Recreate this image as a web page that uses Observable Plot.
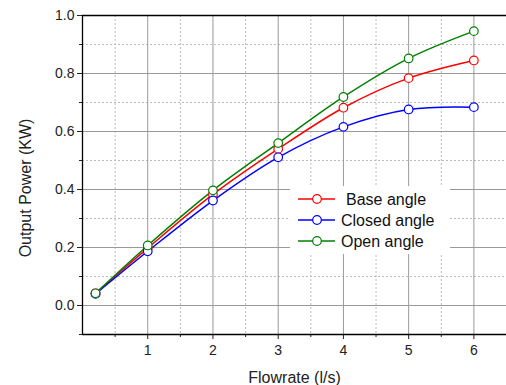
<!DOCTYPE html>
<html>
<head>
<meta charset="utf-8">
<script src="https://cdn.jsdelivr.net/npm/d3@7"></script>
<script src="https://cdn.jsdelivr.net/npm/@observablehq/plot@0.6"></script>
<style>
  html, body { margin: 0; padding: 0; background: #fff; }
  #chart { position: relative; width: 506px; height: 385px; }
  svg { font-family: "Liberation Sans", Arial, sans-serif; }
</style>
</head>
<body>
<div id="chart"></div>
<script>
const flowrate = [0.2, 1, 2, 3, 4, 5, 6];
const baseAngle = [0.042, 0.198, 0.383, 0.540, 0.682, 0.784, 0.845];
const closedAngle = [0.040, 0.187, 0.362, 0.511, 0.616, 0.676, 0.684];
const openAngle = [0.042, 0.207, 0.397, 0.560, 0.719, 0.852, 0.946];
const seriesNames = ["Base angle", "Closed angle", "Open angle"];
const seriesColors = ["#ff0000", "#0000ff", "#008000"];

const xMajor = [1, 2, 3, 4, 5, 6];
const xMinor = [0.5, 1.5, 2.5, 3.5, 4.5, 5.5];
const yMajor = [0, 0.2, 0.4, 0.6, 0.8, 1.0];
const yMinor = [-0.1, 0.1, 0.3, 0.5, 0.7, 0.9];

const seriesValues = [baseAngle, closedAngle, openAngle];
const data = [];
seriesNames.forEach((name, i) => {
  flowrate.forEach((x, j) => data.push({series: name, x, y: seriesValues[i][j]}));
});

const plot = Plot.plot({
  width: 506,
  height: 385,
  marginLeft: 82,
  marginRight: 0,
  marginTop: 15,
  marginBottom: 51,
  style: {fontFamily: "Liberation Sans, Arial, sans-serif", fontSize: "14px", color: "#222"},
  x: {domain: [0, 6.5]},
  y: {domain: [-0.1, 1.0]},
  color: {domain: seriesNames, range: seriesColors},
  marks: [
    Plot.ruleX(xMinor, {stroke: "#bbb", strokeDasharray: "2,2", strokeWidth: 1}),
    Plot.ruleY(yMinor.filter(d => d > -0.1), {stroke: "#bbb", strokeDasharray: "2,2", strokeWidth: 1}),
    Plot.ruleX(xMajor, {stroke: "#999", strokeWidth: 1}),
    Plot.ruleY(yMajor.filter(d => d < 1), {stroke: "#999", strokeWidth: 1}),
    Plot.axisY({ticks: yMajor, tickSize: 5, tickPadding: 3, tickFormat: d3.format(".1f"), label: null, fontSize: 14}),
    Plot.axisY({ticks: yMinor, tickSize: 3, tickFormat: () => "", label: null}),
    Plot.axisX({ticks: xMajor, tickSize: 5, tickPadding: 6, tickFormat: d => String(d), label: null, fontSize: 14}),
    Plot.axisX({ticks: xMinor, tickSize: 3, tickFormat: () => "", label: null}),
    Plot.ruleX([0], {stroke: "#000", strokeWidth: 1.3}),
    Plot.ruleY([-0.1], {stroke: "#000", strokeWidth: 1.3}),
    Plot.ruleY([1.0], {stroke: "#000", strokeWidth: 1.3}),
    Plot.line(data, {x: "x", y: "y", z: "series", stroke: "series", strokeWidth: 1.5, curve: "catmull-rom"}),
    Plot.dot(data, {x: "x", y: "y", stroke: "series", fill: "white", r: 4.3, strokeWidth: 1.2}),
    Plot.text(["Flowrate (l/s)"], {frameAnchor: "bottom", dy: 48, fontSize: 16, fill: "#222"}),
    Plot.text(["Output Power (KW)"], {frameAnchor: "left", textAnchor: "middle", dx: -57, dy: 13, rotate: -90, fontSize: 16, fill: "#222"})
  ]
});
document.getElementById("chart").appendChild(plot);

// Legend drawn into the plot's SVG
const svg = d3.select(plot);
const lg = svg.append("g").attr("transform", "translate(290,186)");
lg.append("rect").attr("width", 160).attr("height", 68).attr("fill", "white");
seriesNames.forEach((name, i) => {
  const yy = 13 + i * 21;
  const row = lg.append("g").attr("transform", `translate(0,${yy})`);
  row.append("line").attr("x1", 8).attr("x2", 45).attr("y1", 0).attr("y2", 0)
    .attr("stroke", seriesColors[i]).attr("stroke-width", 1.5);
  row.append("circle").attr("cx", 27).attr("cy", 0).attr("r", 4.3)
    .attr("fill", "white").attr("stroke", seriesColors[i]).attr("stroke-width", 1.2);
  row.append("text").attr("x", i === 0 ? 56 : 51).attr("y", 0).attr("dy", "0.35em")
    .attr("text-anchor", "start")
    .attr("font-size", 16).attr("fill", "#111").text(name);
});
</script>
</body>
</html>
